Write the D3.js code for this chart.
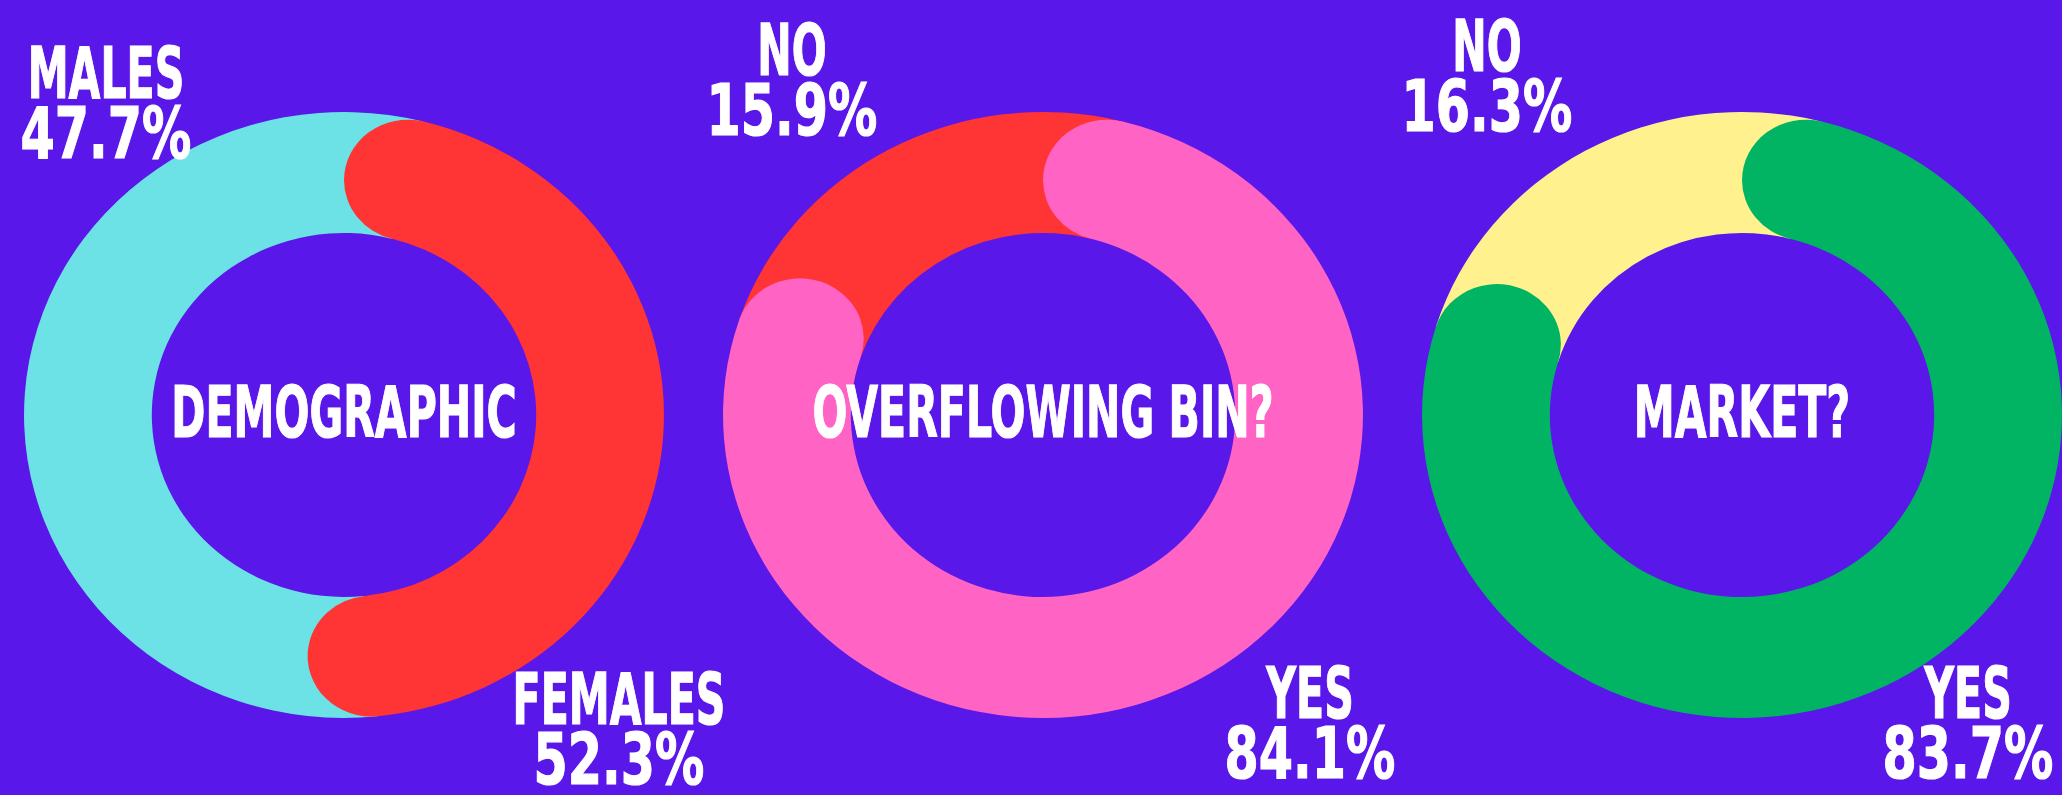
<!DOCTYPE html>
<html lang="en">
  <head>
    <meta charset="utf-8">
    <title>Donuts</title>
    <script src="https://d3js.org/d3.v7.min.js" charset="utf-8"></script>
    <style>
      body { margin: 0; background: #5a17e9; }
      svg { display: block; }
      .lbl { font-family: "DejaVu Sans Condensed", "DejaVu Sans", sans-serif; font-weight: bold; fill: #fff;
             stroke: #fff; stroke-width: 1.2; text-anchor: middle; }
    </style>
  </head>
  <body>
  <div id="dataviz"></div>
  <script type="text/javascript">
    // chart data
    var titles      = ["DEMOGRAPHIC", "OVERFLOWING BIN?", "MARKET?"];
    var mainNames   = ["FEMALES", "YES", "YES"];
    var mainValues  = [52.3, 84.1, 83.7];
    var otherNames  = ["MALES", "NO", "NO"];
    var otherValues = [47.7, 15.9, 16.3];

    // styling
    var mainColors  = ["#ff3434", "#ff63c4", "#00b464"];
    var otherColors = ["#6ce2e6", "#ff3434", "#fff28e"];

    var width = 2062, height = 795,
        cy = 415, outer = 303, inner = 182, stretchX = 1.056,
        fontSize = 72, lineGap = 60, wordScale = 0.635, numScale = 0.76;

    // label anchors relative to each donut centre (x centre, first baseline)
    var otherLabelPos = [[-238, -317], [-251, -340], [-255, -344]];
    var mainLabelPos  = [[275, 309], [267, 303], [226, 303]];

    var svg = d3.select("#dataviz")
      .append("svg")
        .attr("width", width)
        .attr("height", height);

    svg.append("rect").attr("width", width).attr("height", height).attr("fill", "#5a17e9");

    var x = d3.scalePoint()
        .domain(titles)
        .range([344, 1742]);

    var pie = d3.pie().sort(null).value(function(d) { return d.value; });

    var half = (outer - inner) / 2;
    var capAngle = half / ((outer + inner) / 2);

    var arcMain = d3.arc().innerRadius(inner).outerRadius(outer).cornerRadius(half);
    var arcOther = d3.arc().innerRadius(inner).outerRadius(outer);

    function label(px, py, lines) {
      lines.forEach(function(t, k) {
        var isNum = /\d/.test(t);
        svg.append("text")
          .attr("class", "lbl")
          .attr("font-size", fontSize)
          .attr("transform", "translate(" + px + "," + (py + k * lineGap) + ") scale(" + (isNum ? numScale : wordScale) + ",1)")
          .text(t);
      });
    }

    titles.forEach(function(title, i) {
      var cx = x(title);
      var slices = pie([
        { name: mainNames[i], value: mainValues[i], color: mainColors[i] },
        { name: otherNames[i], value: otherValues[i], color: otherColors[i] }
      ]);

      var g = svg.append("g")
        .attr("transform", "translate(" + cx + "," + cy + ") scale(" + stretchX + ",1)");

      // the smaller share sits underneath, stretched under the round caps
      var o = slices[1];
      g.append("path")
        .attr("d", arcOther({ startAngle: o.startAngle - capAngle, endAngle: o.endAngle + capAngle }))
        .attr("fill", o.data.color);

      var m = slices[0];
      g.append("path")
        .attr("d", arcMain(m))
        .attr("fill", m.data.color);

      label(cx, cy + 22, [title]);
      label(cx + otherLabelPos[i][0], cy + otherLabelPos[i][1], [o.data.name, o.data.value.toFixed(1) + "%"]);
      label(cx + mainLabelPos[i][0], cy + mainLabelPos[i][1], [m.data.name, m.data.value.toFixed(1) + "%"]);
    });
  </script>
  </body>
</html>
